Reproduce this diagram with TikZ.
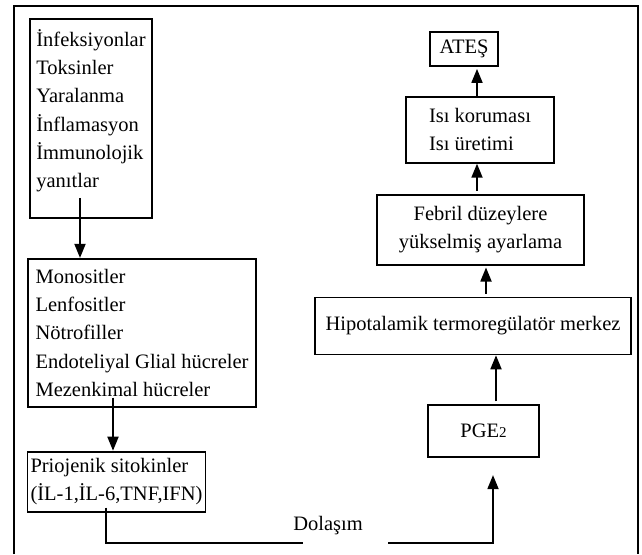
\documentclass[tikz,border=0pt]{standalone}
\usepackage{fontspec}
\setmainfont{Liberation Serif}
\usetikzlibrary{positioning, arrows.meta}

\begin{document}
\begin{tikzpicture}[
    x=1pt, y=-1pt,
    box/.style={rectangle, draw=black, line width=1.8pt, align=left, inner sep=3pt, font=\fontsize{20.5}{28.3}\selectfont},
    lab/.style={font=\fontsize{20.5}{28.3}\selectfont, inner sep=0pt},
    arr/.style={-{Triangle[width=11pt,length=14pt]}, line width=1.8pt},
    lin/.style={line width=1.8pt},
]
    \useasboundingbox (0,0) rectangle (642,554);
    % Frame
    \draw[lin] (14,554) -- (14,6) -- (638,6) -- (638,554);

    % Nodes
    \node[box, minimum width=122pt, minimum height=199pt] (Caus) at (91,118.5)
        {İnfeksiyonlar\\Toksinler\\Yaralanma\\İnflamasyon\\İmmunolojik\\yanıtlar\rule[-20pt]{0pt}{20pt}};
    \node[box, minimum width=228pt, minimum height=148pt] (Cell) [below=39pt of Caus, xshift=51pt]
        {Monositler\\Lenfositler\\Nötrofiller\\Endoteliyal Glial hücreler\\Mezenkimal hücreler};
    \node[box, minimum width=177pt, minimum height=60pt] (Cyto) [below=43pt of Cell, xshift=-25.5pt]
        {Priojenik sitokinler\\(İL-1,İL-6,TNF,IFN)};

    \node[box, minimum width=68pt, minimum height=34pt] (Ates) at (464,49) {ATEŞ};
    \node[box, minimum width=148pt, minimum height=66pt] (Isi) [below=29pt of Ates, xshift=16pt]
        {Isı koruması\\Isı üretimi};
    \node[box, align=center, minimum width=207pt, minimum height=70pt] (Febr) [below=30pt of Isi, xshift=0.5pt]
        {Febril düzeylere\\yükselmiş ayarlama};
    \node[box, minimum width=316pt, minimum height=57pt] (Hipo) [below=31pt of Febr, xshift=-7.5pt]
        {Hipotalamik termoregülatör merkez};
    \node[box, minimum width=111pt, minimum height=52pt] (Pge) [below=49pt of Hipo, xshift=10.5pt]
        {PGE{\fontsize{15}{15}\selectfont 2}};

    \node[lab, anchor=base] (Dola) at (328,530) {Dolaşım};
    \coordinate (GapL) at (303,543);
    \coordinate (GapR) at (388,543);

    % Lines
    \draw[arr] ([xshift=-11pt,yshift=21pt]Caus.south) -- ([xshift=-11pt]Caus.south |- Cell.north);
    \draw[arr] ([xshift=-29pt,yshift=10pt]Cell.south) -- ([xshift=-29pt]Cell.south |- Cyto.north);

    \draw[lin] ([xshift=-10.5pt,yshift=5pt]Cyto.south) |- (GapL);
    \draw[arr] (GapR) -| ([xshift=9.5pt,yshift=-17pt]Pge.south);

    \draw[arr] ([xshift=12.5pt,yshift=3pt]Pge.north) -- ([xshift=12.5pt]Pge.north |- Hipo.south);
    \draw[arr, shorten >=2pt] ([xshift=13pt,yshift=3pt]Hipo.north) -- ([xshift=13pt]Hipo.north |- Febr.south);
    \draw[arr] ([xshift=-3.5pt,yshift=3pt]Febr.north) -- ([xshift=-3.5pt]Febr.north |- Isi.south);
    \draw[arr, shorten >=2pt] ([xshift=-3pt]Isi.north) -- ([xshift=-3pt]Isi.north |- Ates.south);

\end{tikzpicture}
\end{document}
